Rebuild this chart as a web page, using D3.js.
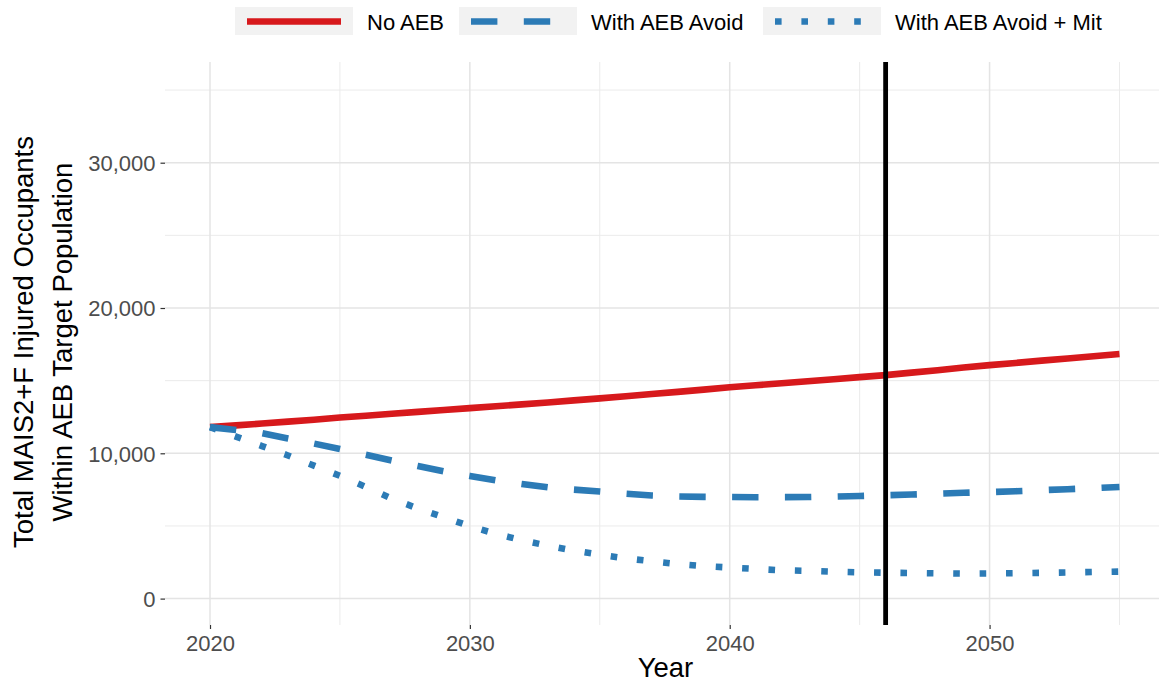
<!DOCTYPE html>
<html>
<head>
<meta charset="utf-8">
<script src="https://cdn.jsdelivr.net/npm/d3@7"></script>
<style>
  html, body { margin: 0; padding: 0; background: #fff; }
  svg { display: block; font-family: Arial, "Liberation Sans", sans-serif; }
</style>
</head>
<body>
<svg id="chart" width="1159" height="683"></svg>
<script>
// ---- data (values in injured occupants) ----
const years = d3.range(2020, 2056);
const noAEB = [11800, 11920, 12050, 12180, 12310, 12460, 12590, 12720, 12850, 12980,
  13110, 13240, 13370, 13500, 13640, 13780, 13930, 14080, 14230, 14380,
  14540, 14680, 14820, 14960, 15100, 15240, 15380, 15550, 15720, 15900,
  16070, 16220, 16380, 16530, 16680, 16830];
const withAvoid = [11800, 11600, 11380, 11020, 10670, 10300, 9900, 9500, 9120, 8760,
  8440, 8140, 7890, 7660, 7500, 7370, 7220, 7100, 7030, 7000,
  6990, 6980, 6980, 6990, 7020, 7060, 7110, 7160, 7220, 7280,
  7330, 7390, 7460, 7530, 7600, 7680];
const withAvoidMit = [11800, 11150, 10500, 9850, 9150, 8450, 7680, 6880, 6200, 5600,
  4980, 4460, 4020, 3640, 3300, 3020, 2770, 2570, 2380, 2240,
  2140, 2040, 1950, 1910, 1850, 1810, 1780, 1760, 1740, 1720,
  1730, 1750, 1770, 1800, 1830, 1860];
const seriesNames = ["No AEB", "With AEB Avoid", "With AEB Avoid + Mit"];
const seriesColors = ["#d7191c", "#2c7bb6", "#2c7bb6"];
const seriesDash = [null, "26.4,26.4", "6.6,19.8"];
const targetYear = 2046;
const xMajorTicks = [2020, 2030, 2040, 2050];
const xMinorTicks = [2025, 2035, 2045, 2055];
const yMajorTicks = [0, 10000, 20000, 30000];
const yMinorTicks = [5000, 15000, 25000, 35000];
const xTitle = "Year";
const yTitleLines = ["Total MAIS2+F Injured Occupants", "Within AEB Target Population"];

// ---- layout ----
const panel = { left: 165, right: 1166, top: 62, bottom: 625 };
const svg = d3.select("#chart");
const x = d3.scaleLinear().domain([2020, 2055]).range([210, 1119.5]);
const y = d3.scaleLinear().domain([0, 30000]).range([598.6, 162.7]);

const seriesValues = [noAEB, withAvoid, withAvoidMit];

svg.append("defs").append("clipPath").attr("id", "pclip")
  .append("rect").attr("x", panel.left).attr("y", panel.top)
  .attr("width", panel.right - panel.left).attr("height", panel.bottom - panel.top);

const grid = svg.append("g");
// minor grid
grid.selectAll(".ymin").data(yMinorTicks).join("line")
  .attr("x1", panel.left).attr("x2", panel.right)
  .attr("y1", d => y(d)).attr("y2", d => y(d))
  .attr("stroke", "#ebebeb").attr("stroke-width", 1);
grid.selectAll(".xmin").data(xMinorTicks).join("line")
  .attr("y1", panel.top).attr("y2", panel.bottom)
  .attr("x1", d => x(d)).attr("x2", d => x(d))
  .attr("stroke", "#ebebeb").attr("stroke-width", 1);
// major grid
grid.selectAll(".ymaj").data(yMajorTicks).join("line")
  .attr("x1", panel.left).attr("x2", panel.right)
  .attr("y1", d => y(d)).attr("y2", d => y(d))
  .attr("stroke", "#e4e4e4").attr("stroke-width", 1.5);
grid.selectAll(".xmaj").data(xMajorTicks).join("line")
  .attr("y1", panel.top).attr("y2", panel.bottom)
  .attr("x1", d => x(d)).attr("x2", d => x(d))
  .attr("stroke", "#e4e4e4").attr("stroke-width", 1.5);

// ---- axes ----
const yAxis = d3.axisLeft(y).tickValues(yMajorTicks).tickSize(4.5).tickPadding(5)
  .tickFormat(d3.format(","));
const gy = svg.append("g").attr("transform", `translate(${panel.left},0)`).call(yAxis);
gy.select(".domain").remove();
gy.selectAll(".tick line").attr("stroke", "#333").attr("stroke-width", 1.2);
gy.selectAll(".tick text").attr("fill", "#4d4d4d").attr("font-size", 22)
  .attr("font-family", "Arial, 'Liberation Sans', sans-serif").attr("dy", "0.35em");

const xAxis = d3.axisBottom(x).tickValues(xMajorTicks).tickSize(4).tickPadding(5)
  .tickFormat(d3.format("d"));
const gx = svg.append("g").attr("transform", `translate(0,${panel.bottom})`).call(xAxis);
gx.select(".domain").remove();
gx.selectAll(".tick line").attr("stroke", "#333").attr("stroke-width", 1.2);
gx.selectAll(".tick text").attr("fill", "#4d4d4d").attr("font-size", 22)
  .attr("font-family", "Arial, 'Liberation Sans', sans-serif").attr("dy", null).attr("y", 25.7);

// titles
svg.append("text").attr("x", (panel.left + panel.right) / 2).attr("y", 677)
  .attr("text-anchor", "middle").attr("font-size", 27.5).attr("fill", "#000").text(xTitle);
const yt = svg.append("text").attr("transform", "translate(0,342) rotate(-90)")
  .attr("text-anchor", "middle").attr("font-size", 27.5).attr("fill", "#000");
yt.selectAll("tspan").data(yTitleLines).join("tspan")
  .attr("x", 0).attr("y", (d, i) => i === 0 ? 33 : 72).text(d => d);

// ---- lines ----
const line = d3.line().x((d, i) => x(years[i])).y(d => y(d));
const lines = svg.append("g").attr("clip-path", "url(#pclip)");
seriesValues.forEach((vals, k) => {
  lines.append("path").datum(vals)
    .attr("d", line)
    .attr("fill", "none")
    .attr("stroke", seriesColors[k])
    .attr("stroke-width", 6.6)
    .attr("stroke-linejoin", "round")
    .attr("stroke-linecap", "butt")
    .attr("stroke-dasharray", seriesDash[k]);
});

// target year vertical line
svg.append("line").attr("x1", x(targetYear)).attr("x2", x(targetYear))
  .attr("y1", panel.top).attr("y2", panel.bottom)
  .attr("stroke", "#000").attr("stroke-width", 4.8);

// ---- legend ----
const legendX = [235, 459, 763];
const legend = svg.append("g");
seriesNames.forEach((name, k) => {
  const gx0 = legendX[k];
  legend.append("rect").attr("x", gx0).attr("y", 7).attr("width", 118).attr("height", 28)
    .attr("fill", "#f2f2f2");
  legend.append("line").attr("x1", gx0 + 12).attr("x2", gx0 + 106)
    .attr("y1", 21.5).attr("y2", 21.5)
    .attr("stroke", seriesColors[k]).attr("stroke-width", 6.6)
    .attr("stroke-linecap", "butt")
    .attr("stroke-dasharray", seriesDash[k]);
  legend.append("text").attr("x", gx0 + 132).attr("y", 29.5)
    .attr("font-size", 22).attr("fill", "#000").text(name);
});
</script>
</body>
</html>
